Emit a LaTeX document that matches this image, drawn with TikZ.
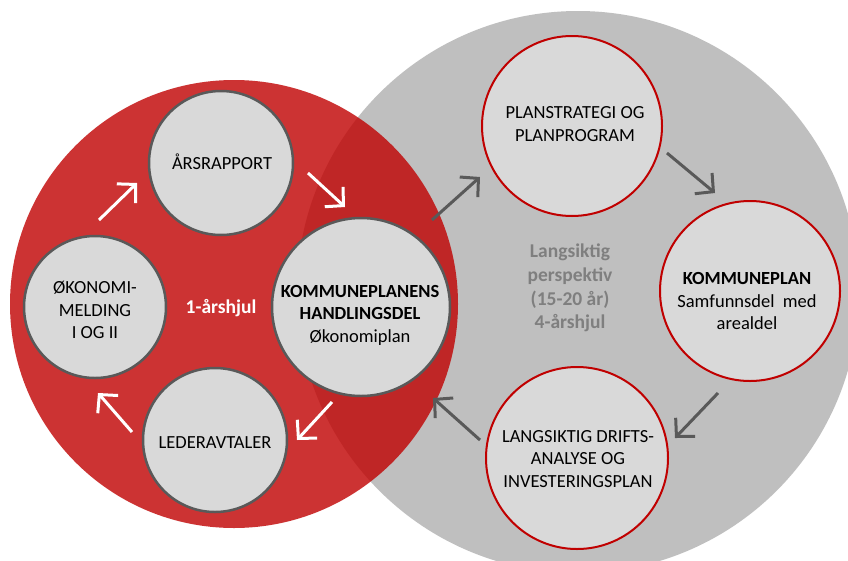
\documentclass[tikz,border=0pt]{standalone}
\usepackage{fontspec}
\setmainfont{Carlito}
\usetikzlibrary{arrows.meta}
\definecolor{redfill}{HTML}{C00000}
\definecolor{bigGray}{HTML}{BFBFBF}
\definecolor{smallFill}{HTML}{D9D9D9}
\definecolor{darkLine}{HTML}{595959}
\definecolor{midText}{HTML}{7F7F7F}
\begin{document}
\begin{tikzpicture}[x=1pt,y=-1pt,
  bigdisc/.style={circle, inner sep=0pt, minimum size=#1},
  redsmall/.style={circle, fill=smallFill, draw=darkLine, line width=2.5pt, minimum size=#1, inner sep=0pt},
  graysmall/.style={circle, fill=smallFill, draw=redfill, line width=2pt, minimum size=#1, inner sep=0pt},
  lbl/.style={align=center, inner sep=0pt, font=\fontsize{18.5}{22.5}\selectfont, text=black},
  wheellbl/.style={align=center, inner sep=0pt, font=\fontsize{19.5}{23.6}\selectfont\bfseries},
  barb/.style={-{Straight Barb[length=13pt,width=27pt]}},
  whitearrow/.style={barb, draw=white, line width=3pt},
  grayarrow/.style={barb, draw=darkLine, line width=3pt}
]
\useasboundingbox (0,0) rectangle (848,560);
\clip (0,0) rectangle (848,560);
\fill[white] (0,0) rectangle (848,560);

% big wheels
\node[bigdisc=562pt, fill=bigGray] (grayBig) at (578,292) {};
\node[bigdisc=448pt, fill=redfill, fill opacity=0.8] (redBig) at (234,304) {};

% small circles of the 1-year wheel
\node[redsmall=144pt] (ars) at (221,163) {};
\node[redsmall=142pt] (oko) at (95,307) {};
\node[redsmall=178pt] (kph) at (361,307) {};
\node[redsmall=144pt] (led) at (215,440) {};

% small circles of the 4-year wheel
\node[graysmall=180pt] (pls) at (572,126) {};
\node[graysmall=180pt] (kpl) at (750,291) {};
\node[graysmall=182pt] (lds) at (577,458) {};

% labels
\node[lbl] (arsT) at (222,162) {ÅRSRAPPORT};
\node[lbl] (okoT) at (95,310) {ØKONOMI-\\MELDING\\I OG II};
\node[lbl] (kphT) at (360,315) {\textbf{KOMMUNEPLANENS}\\\textbf{HANDLINGSDEL}\\Økonomiplan};
\node[lbl] (ledT) at (215,443) {LEDERAVTALER};
\node[wheellbl, text=white] (oneYear) at (221,308) {1-årshjul};

\node[lbl] (plsT) at (575,124) {PLANSTRATEGI OG\\PLANPROGRAM};
\node[lbl] (kplT) at (747,301) {\textbf{KOMMUNEPLAN}\\Samfunnsdel\ \ med\\arealdel};
\node[lbl] (ldsT) at (578,459) {LANGSIKTIG DRIFTS-\\ANALYSE OG\\INVESTERINGSPLAN};
\node[wheellbl, text=midText] (fourYear) at (570,288) {Langsiktig\\perspektiv\\(15-20 år)\\4-årshjul};

% arrow end points
\coordinate (w1s) at (308,173); \coordinate (w1e) at (345,207);
\coordinate (w2s) at (332,402); \coordinate (w2e) at (297,440);
\coordinate (w3s) at (132,432); \coordinate (w3e) at (98,393);
\coordinate (w4s) at (99,220);  \coordinate (w4e) at (137,183);
\coordinate (g1s) at (432,220); \coordinate (g1e) at (480,177);
\coordinate (g2s) at (667,153); \coordinate (g2e) at (715,193);
\coordinate (g3s) at (718,393); \coordinate (g3e) at (675,438);
\coordinate (g4s) at (480,440); \coordinate (g4e) at (433,398);

\draw[whitearrow] (w1s) -- (w1e);
\draw[whitearrow] (w2s) -- (w2e);
\draw[whitearrow] (w3s) -- (w3e);
\draw[whitearrow] (w4s) -- (w4e);
\draw[grayarrow] (g1s) -- (g1e);
\draw[grayarrow] (g2s) -- (g2e);
\draw[grayarrow] (g3s) -- (g3e);
\draw[grayarrow] (g4s) -- (g4e);
\end{tikzpicture}
\end{document}
